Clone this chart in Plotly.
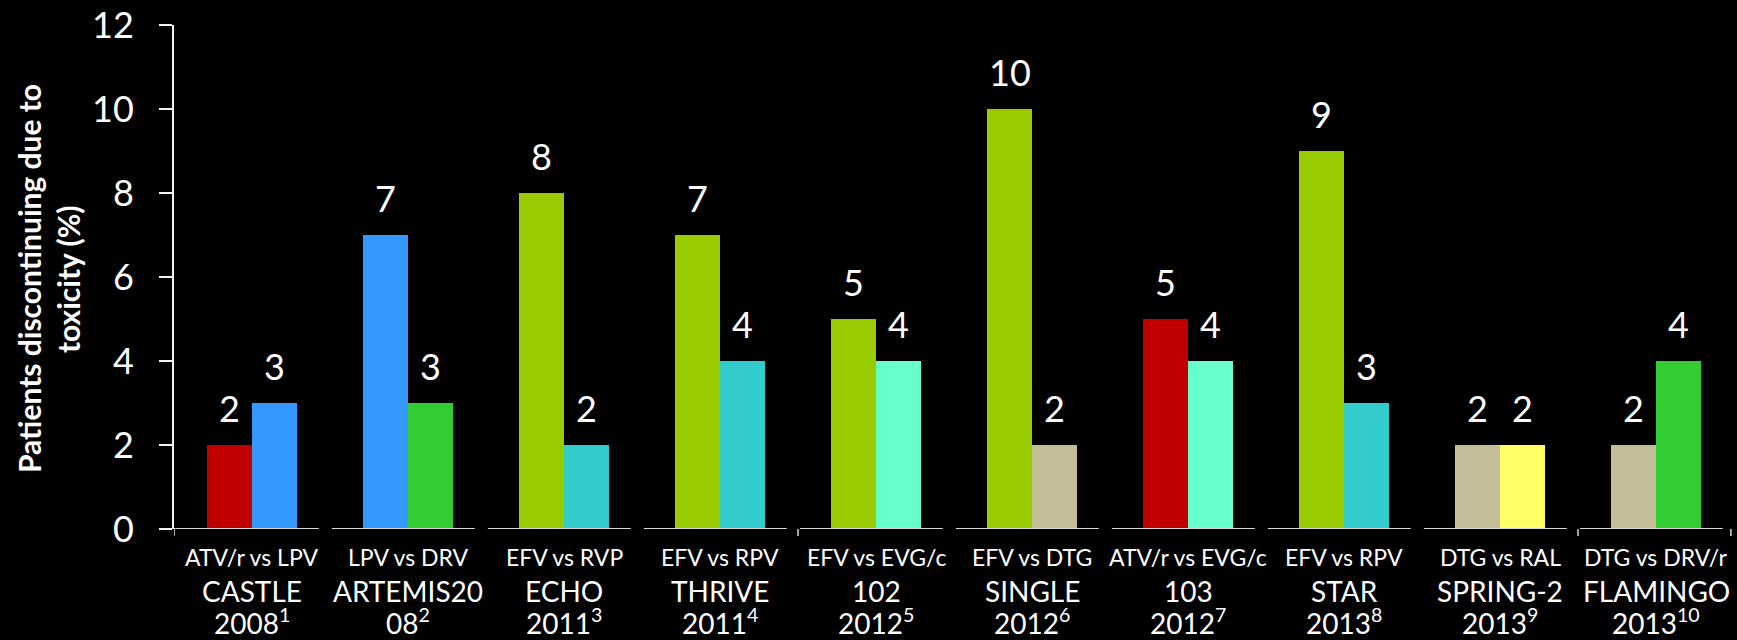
import plotly.graph_objects as go

# ---- data -------------------------------------------------------------
comparisons = ["ATV/r vs LPV", "LPV vs DRV", "EFV vs RVP", "EFV vs RPV", "EFV vs EVG/c",
               "EFV vs DTG", "ATV/r vs EVG/c", "EFV vs RPV", "DTG vs RAL", "DTG vs DRV/r"]
studies = ["CASTLE", "ARTEMIS20", "ECHO", "THRIVE", "102",
           "SINGLE", "103", "STAR", "SPRING-2", "FLAMINGO"]
years = ["2008", "08", "2011", "2011", "2012", "2012", "2012", "2013", "2013", "2013"]
refs = ["1", "2", "3", "4", "5", "6", "7", "8", "9", "10"]

first_arm = [2, 7, 8, 7, 5, 10, 5, 9, 2, 2]
second_arm = [3, 3, 2, 4, 4, 2, 4, 3, 2, 4]

y_ticks = [0, 2, 4, 6, 8, 10, 12]
y_title = ["Patients discontinuing due to", "toxicity (%)"]

# ---- styling ----------------------------------------------------------
RED, BLUE, GREEN = "#C00000", "#3399FF", "#33CC33"
LIME, TEAL, AQUA = "#99CC00", "#33CCCC", "#66FFCC"
TAN, YELLOW = "#C4BD97", "#FFFF66"
first_colors = [RED, BLUE, LIME, LIME, LIME, LIME, RED, LIME, TAN, TAN]
second_colors = [BLUE, GREEN, TEAL, TEAL, AQUA, TAN, AQUA, TEAL, YELLOW, GREEN]

FONT = "Lato"
BARGAP = 0.423
half = (1 - BARGAP) / 4  # centre offset of each bar within its group

# plot-area geometry in pixels
W, H = 1737, 640
ML, MR, MT, MB = 174, 3, 25, 111
PLOT_W, PLOT_H = W - ML - MR, H - MT - MB
BASE_Y = H - MB  # pixel row of the x baseline


def paper_x(px):
    return (px - ML) / PLOT_W


def paper_y(py):
    return (BASE_Y - py) / PLOT_H


x = list(range(len(studies)))

fig = go.Figure()
fig.add_trace(go.Bar(x=x, y=first_arm, marker=dict(color=first_colors, line_width=0),
                     showlegend=False, hoverinfo="y"))
fig.add_trace(go.Bar(x=x, y=second_arm, marker=dict(color=second_colors, line_width=0),
                     showlegend=False, hoverinfo="y"))

annotations = []
# value labels above each bar
for i, (a, b) in enumerate(zip(first_arm, second_arm)):
    for xv, v in ((i - half, a), (i + half, b)):
        annotations.append(dict(x=xv, y=v, xref="x", yref="y", text=str(v),
                                showarrow=False, yanchor="bottom", yshift=13,
                                font=dict(family=FONT, size=36, color="white")))

# three-line category labels under each study
for i, (c, s, yr, r) in enumerate(zip(comparisons, studies, years, refs)):
    rows = ((c, 23, 557), (s, 28, 591), (f"{yr}<sup>{r}</sup>", 28, 621))
    for text, size, py in rows:
        annotations.append(dict(x=i, y=paper_y(py), xref="x", yref="paper", text=text,
                                showarrow=False, xanchor="center", yanchor="middle",
                                borderpad=0,
                                font=dict(family=FONT, size=size, color="white")))

# y-axis title, one rotated line per annotation
for line, px in zip(y_title, (29, 68)):
    annotations.append(dict(
        x=paper_x(px), y=paper_y(279), xref="paper", yref="paper",
        text=f"<b>{line}</b>", textangle=-90, showarrow=False,
        xanchor="center", yanchor="middle", borderpad=0,
        font=dict(family=FONT, size=30, color="white")))

# category baseline, drawn as one segment per study
shapes = []
for i in x:
    x0 = i - 0.5 if i == 0 else i - 0.5 + 0.012
    shapes.append(dict(type="line", xref="x", yref="y", x0=x0, x1=i + 0.5 - 0.072,
                       y0=0, y1=0, line=dict(color="#D9D9D9", width=2)))
# small category tick marks below the baseline
for xt in (-0.5, 3.5, 8.5, 9.48):
    shapes.append(dict(type="line", xref="x", yref="paper", x0=xt, x1=xt,
                       y0=0, y1=-7 / PLOT_H, line=dict(color="#D9D9D9", width=1.5)))

fig.update_layout(
    width=W, height=H,
    margin=dict(l=ML, r=MR, t=MT, b=MB),
    paper_bgcolor="black", plot_bgcolor="black",
    barmode="group", bargap=BARGAP, bargroupgap=0,
    font=dict(family=FONT, color="white"),
    annotations=annotations, shapes=shapes,
    xaxis=dict(range=[-0.5, 9.5], tickvals=x, showticklabels=False,
               showline=False, showgrid=False, zeroline=False, ticks="",
               automargin=False),
    yaxis=dict(range=[0, 12], tickvals=y_ticks, showgrid=False, zeroline=False,
               showline=True, linecolor="#F2F2F2", linewidth=2,
               ticks="outside", ticklen=13, tickwidth=2, tickcolor="#F2F2F2",
               tickfont=dict(family=FONT, size=36, color="white"),
               ticklabelstandoff=18, automargin=False),
)

fig.write_html("out.html")
